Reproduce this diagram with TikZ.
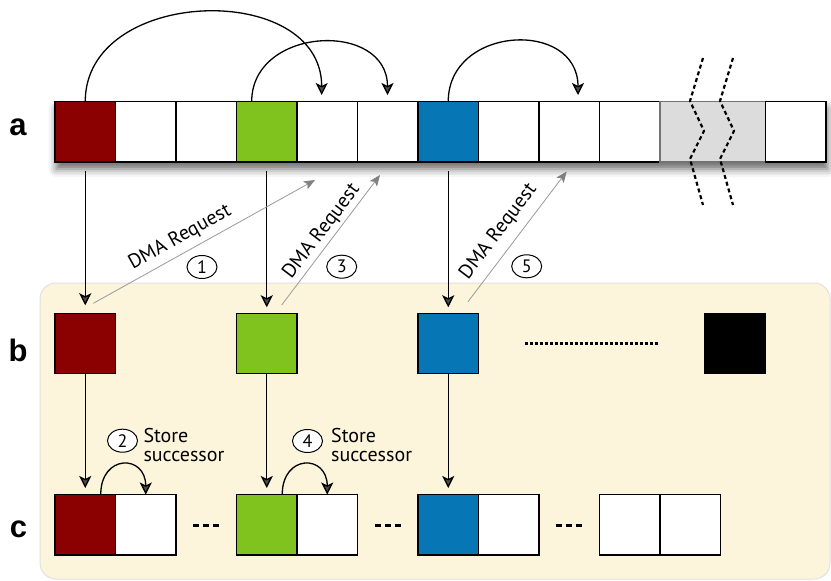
\documentclass[tikz,border=0pt]{standalone}
\usepackage{fontspec}
\setmainfont{PT Sans}
\newfontfamily\rowlabelfont{Liberation Sans}
\usetikzlibrary{arrows.meta,shadows.blur,shapes.geometric}

\definecolor{cellred}{RGB}{139,0,0}
\definecolor{cellgreen}{RGB}{128,195,31}
\definecolor{cellblue}{RGB}{6,118,180}
\definecolor{panelfill}{RGB}{253,245,219}
\definecolor{gapgray}{RGB}{220,220,220}

\begin{document}
\begin{tikzpicture}[x=1pt,y=-1pt,
  cell/.style={draw=black, line width=1.3pt, minimum width=60.5pt,
    minimum height=60.5pt, inner sep=0pt, outer sep=0pt, fill=white},
  rowlabel/.style={font=\rowlabelfont\bfseries\fontsize{31}{31}\selectfont, inner sep=0pt},
  link/.style={line width=1.3pt, -{Stealth[length=12pt,width=12pt,inset=3pt]}},
  dma/.style={draw=black!40, line width=0.8pt,
    -{Stealth[length=11pt,width=9pt,inset=2.5pt,color=black!50]}},
  dmatext/.style={font=\fontsize{20}{20}\selectfont, inner sep=0pt},
  stepnum/.style={ellipse, draw=black, line width=1pt, fill=white,
    minimum width=30pt, minimum height=23pt, inner sep=0pt,
    font=\fontsize{18}{18}\selectfont},
  storetext/.style={font=\fontsize{20}{18.8}\selectfont, align=left,
    inner sep=0pt, anchor=west},
  gapdash/.style={line width=3.5pt, dash pattern=on 6pt off 4pt},
  gapdots/.style={line width=3pt, dash pattern=on 3pt off 2pt},
  breakline/.style={line width=2.2pt, dash pattern=on 4pt off 3pt}
]
\useasboundingbox (0,0) rectangle (831,581);

% background panel holding rows b and c
\draw[fill=panelfill, draw=black!12, line width=1pt, rounded corners=16pt]
  (40,283) rectangle (830,579);

% row a with its drop shadow
\fill[white, blur shadow={shadow xshift=1.5pt, shadow yshift=-7pt,
  shadow blur radius=8pt, shadow opacity=60}] (55,101.5) rectangle (826,162);
\node[cell, fill=cellred]   (a1)  at (85.25,131.75) {};
\node[cell]                 (a2)  at (145.75,131.75) {};
\node[cell]                 (a3)  at (206.25,131.75) {};
\node[cell, fill=cellgreen] (a4)  at (266.75,131.75) {};
\node[cell]                 (a5)  at (327.25,131.75) {};
\node[cell]                 (a6)  at (387.75,131.75) {};
\node[cell, fill=cellblue]  (a7)  at (448.25,131.75) {};
\node[cell]                 (a8)  at (508.75,131.75) {};
\node[cell]                 (a9)  at (569.25,131.75) {};
\node[cell]                 (a10) at (629.75,131.75) {};
\node[cell, fill=gapgray, draw=black!55, minimum width=105.5pt] (agap) at (712.75,131.75) {};
\node[cell]                 (a12) at (795.75,131.75) {};

% break marks across the gap cell
\draw[breakline] (703,58) -- (690,101) -- (704,131) -- (690,159) -- (703,205);
\draw[breakline] (733,58) -- (720,101) -- (734,131) -- (720,159) -- (733,205);

% successor links inside row a
\coordinate (t1) at (321.7,95);
\coordinate (t2) at (387.5,95);
\coordinate (t3) at (578,95);
\coordinate (s2) at (251.7,101.5);
\draw[link] (a1.north) .. controls +(0,-115) and +(0,-115) .. (t1);
\draw[link] (s2) .. controls +(0,-75) and +(0,-75) .. (t2);
\draw[link] (a7.north) .. controls +(0,-76) and +(0,-76) .. (t3);

% row b
\node[cell, fill=cellred]   (b1) at (85.25,343.5) {};
\node[cell, fill=cellgreen] (b2) at (266.75,343.5) {};
\node[cell, fill=cellblue]  (b3) at (448.25,343.5) {};
\node[cell, fill=black]     (b4) at (734.75,343.5) {};
\draw[gapdots] (524.6,343.3) -- (658,343.3);

% row c
\node[cell, fill=cellred]   (c1) at (85.25,524.75) {};
\node[cell]                 (c2) at (145.75,524.75) {};
\node[cell, fill=cellgreen] (c3) at (266.75,524.75) {};
\node[cell]                 (c4) at (327.25,524.75) {};
\node[cell, fill=cellblue]  (c5) at (448.25,524.75) {};
\node[cell]                 (c6) at (508.75,524.75) {};
\node[cell]                 (c7) at (629.75,524.75) {};
\node[cell]                 (c8) at (690.25,524.75) {};
\draw[gapdash] (193,525.5) -- (219.5,525.5);
\draw[gapdash] (375,525.5) -- (401.5,525.5);
\draw[gapdash] (555.5,525.5) -- (582,525.5);

% row labels
\node[rowlabel] (la) at (18,127) {a};
\node[rowlabel] (lb) at (18,350) {b};
\node[rowlabel] (lc) at (18.5,529) {c};

% a -> b
\draw[link] ([yshift=-9pt]a1.south) -- ([yshift=8pt]b1.north);
\draw[link] ([yshift=-9pt]a4.south) -- ([yshift=6pt]b2.north);
\draw[link] ([yshift=-9pt]a7.south) -- ([yshift=6pt]b3.north);

% b -> c
\draw[link] (b1.south) -- ([yshift=6.5pt]c1.north);
\draw[link] (b2.south) -- ([yshift=6.5pt]c3.north);
\draw[link] (b3.south) -- ([yshift=6.5pt]c5.north);

% DMA requests
\coordinate (d1s) at (93.3,303.3);  \coordinate (d1e) at (315,180);
\coordinate (d3s) at (281.7,305);   \coordinate (d3e) at (380,175);
\coordinate (d5s) at (468,301.7);   \coordinate (d5e) at (566.7,171.5);
\draw[dma] (d1s) -- (d1e);
\draw[dma] (d3s) -- (d3e);
\draw[dma] (d5s) -- (d5e);
\node[dmatext, rotate=29.1] (q1) at (180,237.5) {DMA Request};
\node[dmatext, rotate=52.9] (q3) at (321.7,231.5) {DMA Request};
\node[dmatext, rotate=52.8] (q5) at (498.5,231.7) {DMA Request};
\node[stepnum] (n1) at (202,267) {1};
\node[stepnum] (n3) at (341.7,266.7) {3};
\node[stepnum] (n5) at (526.7,266.3) {5};

% store successor
\draw[link] ([xshift=15.5pt]c1.north) .. controls +(0,-40.5) and +(0,-40.5) .. (c2.north);
\draw[link] ([xshift=15.5pt]c3.north) .. controls +(0,-40.5) and +(0,-40.5) .. (c4.north);
\node[stepnum] (n2) at (122.5,440.7) {2};
\node[stepnum] (n4) at (307.5,441) {4};
\node[storetext] (st1) at (143.3,445) {Store\\successor};
\node[storetext] (st2) at (331,445) {Store\\successor};
\end{tikzpicture}
\end{document}
